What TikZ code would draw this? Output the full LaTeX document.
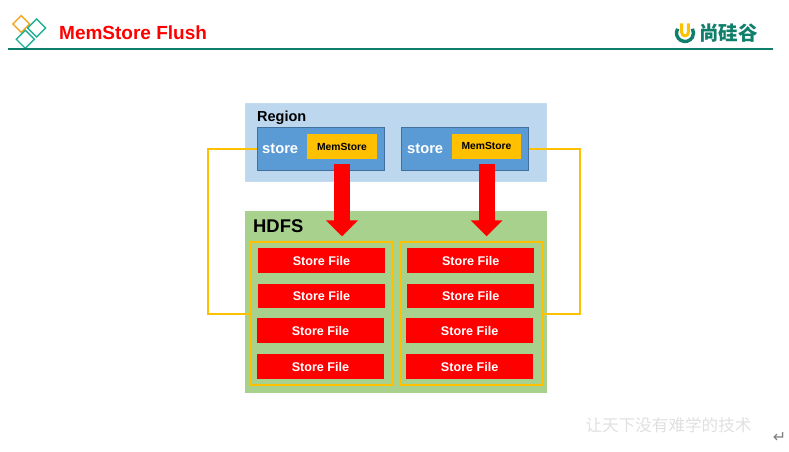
\documentclass[tikz,border=0pt]{standalone}
\usepackage{fontspec}
\setmainfont{Liberation Sans}
\newfontfamily\cjkfont{Noto Sans CJK SC}
\newfontfamily\symfont{DejaVu Sans}
\usetikzlibrary{positioning,arrows.meta,shapes.geometric}
\definecolor{regionblue}{HTML}{BDD7EE}
\definecolor{storeblue}{HTML}{5B9BD5}
\definecolor{storeline}{HTML}{41719C}
\definecolor{memyellow}{HTML}{FFC000}
\definecolor{hdfsgreen}{HTML}{A9D18E}
\definecolor{ruleteal}{HTML}{0F7F6B}
\definecolor{logoteal}{HTML}{1FAE96}
\definecolor{logoorange}{HTML}{F5A623}
\newcommand{\fs}[1]{\fontsize{#1}{#1}\selectfont\bfseries}
\tikzset{region node/.style={fill=regionblue,draw=regionblue!90!white,line width=0.5pt,minimum width=301pt,minimum height=78pt,inner sep=0pt,outer sep=0pt},
	hdfs node/.style={fill=hdfsgreen,minimum width=301.5pt,minimum height=181.5pt,inner sep=0pt,outer sep=0pt},
	store node/.style={fill=storeblue,draw=storeline,line width=1pt,minimum width=127pt,minimum height=42.5pt,inner sep=0pt,outer sep=0pt},
	mem node/.style={fill=memyellow,minimum width=69.5pt,minimum height=25pt,inner sep=0pt,outer sep=0pt,font=\fs{10.3}},
	box node/.style={draw=memyellow,line width=2pt,minimum width=141pt,minimum height=143pt,inner sep=0pt,outer sep=0pt},
	file node/.style={fill=red,minimum width=127pt,minimum height=24.5pt,inner sep=0pt,outer sep=0pt,text=white,font=\fs{12.6}},
	logo node/.style={diamond,draw=logoteal,line width=1.4pt,minimum size=18.6pt,inner sep=0pt},
	link/.style={draw=memyellow,line width=2pt},
	flush/.style={draw=red,line width=16pt,-{Triangle[width=31pt,length=16pt]}},
}

\begin{document}
\begin{tikzpicture}[x=1pt,y=-1pt,node distance = 11pt]
	\useasboundingbox (0,0) rectangle (789,452);
	% header
	\node[logo node,draw=logoorange,minimum size=17.4pt] (logo1) at (21.3,24){};
	\node[logo node] (logo2) at (36.7,28){};
	\node[logo node] (logo3) at (25.3,39.3){};
	\node[anchor=west,inner sep=0pt,text=red,font=\fs{19}] (title) at (59,32.5){MemStore Flush};
	\coordinate (ruleA) at (8,49.5);
	\coordinate (ruleB) at (773,49.5);
	\draw[ruleteal,line width=2pt] (ruleA) -- (ruleB);
	\draw[ruleteal,line width=3.4pt] (685,33) ++(150:8.5pt) arc[start angle=150,end angle=390,radius=8.5pt];
	\draw[memyellow,line width=3pt] (681.7,23.5) -- (681.7,32.5) arc[start angle=180,end angle=360,radius=3.3pt] -- (688.3,23.5);
	\node[anchor=west,inner sep=0pt,text=ruleteal,font=\cjkfont\fontsize{19.5}{20}\selectfont\bfseries] (brand) at (699,33){尚硅谷};
	
	% region
	\node[region node] (region) at (395.5,142){};
	\node[store node] (store1) at (320.5,149){};
	\node[store node] (store2) at (465,149){};
	\node[mem node] (mem1) at (342,146.5){MemStore};
	\node[mem node] (mem2) at (486.5,146){MemStore};
	\node[anchor=west,inner sep=0pt,font=\fs{14.5}] (regionlabel) at (257,117.3){Region};
	\node[anchor=west,inner sep=0pt,text=white,font=\fs{14.7}] (storelabel1) at (262,148.5){store};
	\node[anchor=west,inner sep=0pt,text=white,font=\fs{14.7}] (storelabel2) at (407,148.5){store};
	
	% hdfs
	\node[hdfs node] (hdfs) at (395.75,302){};
	\node[anchor=west,inner sep=0pt,font=\fs{18.4}] (hdfslabel) at (253,226.5){HDFS};
	\node[box node] (box1) at (321.5,313.5){};
	\node[box node] (box2) at (471,313.5){};
	\node[file node] (file1) at (321.5,260.7){Store File};
	\node[file node] (file2)[below = of file1]{Store File};
	\node[file node] (file3)[below = 10pt of file2,xshift=-1pt]{Store File};
	\node[file node] (file4)[below = 11.5pt of file3]{Store File};
	\node[file node] (file5) at (470.7,260.7){Store File};
	\node[file node] (file6)[below = of file5]{Store File};
	\node[file node] (file7)[below = 10pt of file6,xshift=-1pt]{Store File};
	\node[file node] (file8)[below = 11.5pt of file7]{Store File};
	
	% flush arrows
	\coordinate (flush1) at (342,164);
	\coordinate (target1) at (342,236.3);
	\coordinate (flush2) at (486.7,164);
	\coordinate (target2) at (486.7,236.3);
	\path[flush] (flush1) -- (target1);
	\path[flush] (flush2) -- (target2);
	
	% links
	\coordinate (turn1) at (208,148);
	\coordinate (turn2) at (579.7,148);
	\path[link] (store1.west) -| (turn1) |- (box1.west);
	\path[link] (store2.east) -| (turn2) |- (box2.east);
	
	% footer
	\node[inner sep=0pt,text=black!12,font=\cjkfont\fontsize{16.6}{17}\selectfont] (motto) at (668.5,425){让天下没有难学的技术};
	\node[inner sep=0pt,text=black!50,font=\symfont\fontsize{16}{16}\selectfont] (enter) at (779.5,437.5){↵};
\end{tikzpicture}
\end{document}
